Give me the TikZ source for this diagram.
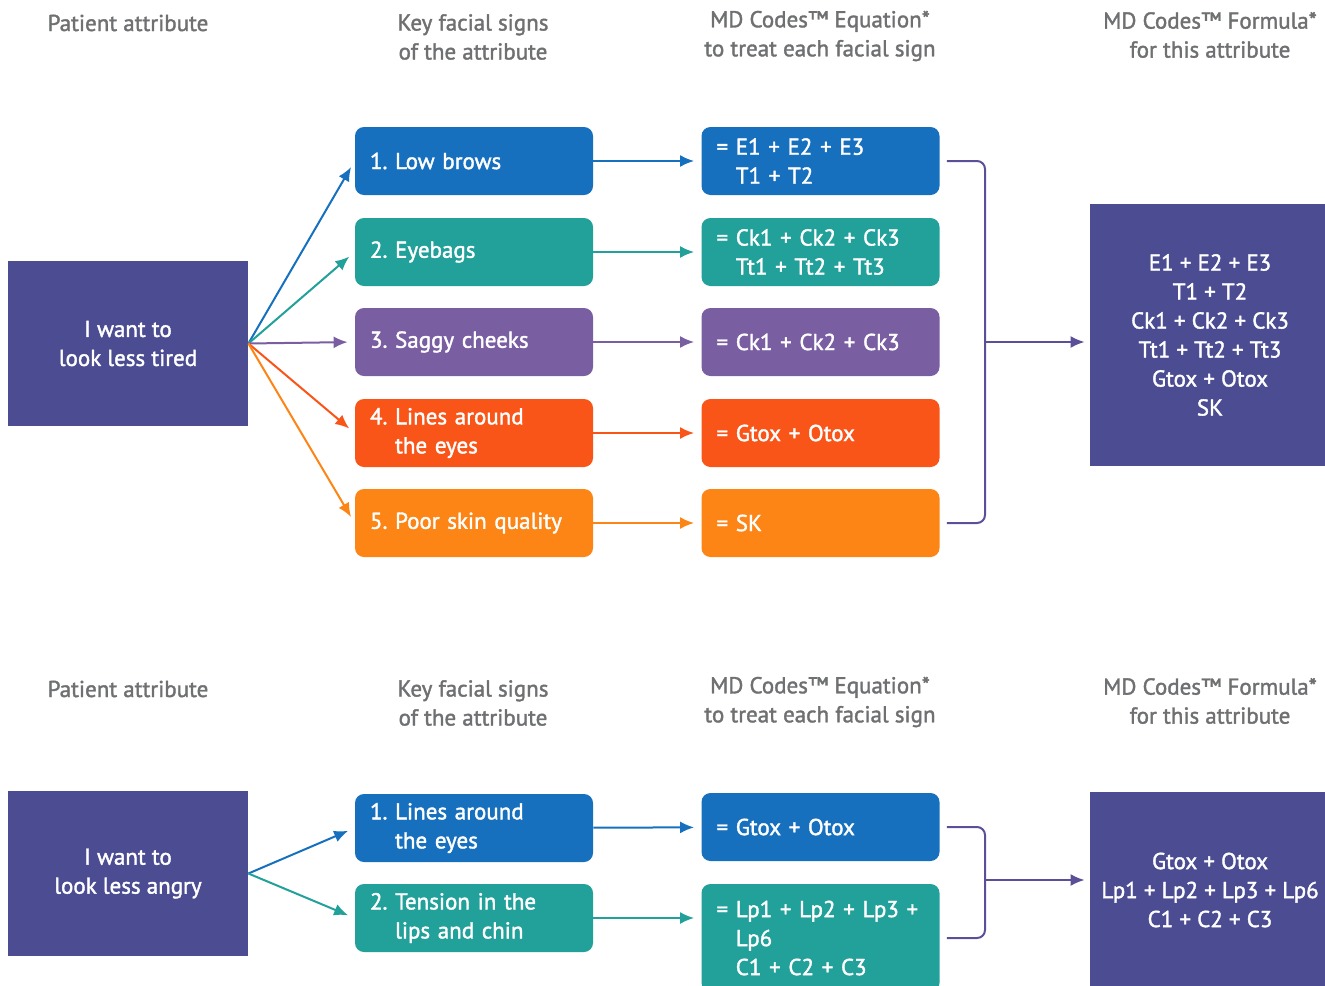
\documentclass[tikz,border=0pt]{standalone}
\usepackage{fontspec}
\setmainfont{PT Sans}[BoldFont=PT Sans,BoldFeatures={FakeBold=1.6}]
\usetikzlibrary{arrows.meta}

\definecolor{attr}{HTML}{4B4C92}
\definecolor{brow}{HTML}{1670BE}
\definecolor{bag}{HTML}{22A09A}
\definecolor{cheek}{HTML}{7A5EA2}
\definecolor{line}{HTML}{FA5519}
\definecolor{skin}{HTML}{FD8516}
\definecolor{bracket}{HTML}{5D4F97}
\definecolor{headgray}{HTML}{6F7072}

\tikzset{
  attrbox/.style={fill=attr,text=white,minimum width=120pt,align=center},
  signbox/.style={rounded corners=4.5pt,minimum width=119pt,minimum height=34pt,
    text width=104pt,inner xsep=7.5pt,align=left,text=white},
  head/.style={text=headgray,align=center},
  arr/.style={-{Latex[length=7pt,width=6pt]},line width=1pt,shorten >=3.5pt},
}

\begin{document}
\begin{tikzpicture}[x=0.5pt,y=-0.5pt,font=\fontsize{11.5}{14.5}\selectfont\bfseries\frenchspacing]
    \useasboundingbox (0,0) rectangle (1325,985);
    \clip (0,0) rectangle (1325,985);
    % tired
    \node [head] (H1) at (128,23) {Patient attribute};%
    \node [head] (H2) at (473,37) {Key facial signs\\of the attribute};%
    \node [head] (H3) at (820,36) {MD Codes™ Equation*\\to treat each facial sign};%
    \node [head] (H4) at (1210,35) {MD Codes™ Formula*\\for this attribute};%
    \node [attrbox,minimum height=82.5pt] (A1) at (128,343.5) {I want to\\look less tired};%
    \node [signbox,fill=brow] (S1) at (474,161) {1.~Low brows};%
    \node [signbox,fill=bag] (S2) at (474,252) {2.~Eyebags};%
    \node [signbox,fill=cheek] (S3) at (474,342) {3.~Saggy cheeks};%
    \node [signbox,fill=line] (S4) at (474,433) {4.~Lines around\\\phantom{4.~}the eyes};%
    \node [signbox,fill=skin] (S5) at (474,523) {5.~Poor skin quality};%
    \node [signbox,fill=brow] (E1) at (820.5,161) {=~E1 + E2 + E3\\\phantom{=~}T1 + T2};%
    \node [signbox,fill=bag] (E2) at (820.5,252) {=~Ck1 + Ck2 + Ck3\\\phantom{=~}Tt1 + Tt2 + Tt3};%
    \node [signbox,fill=cheek] (E3) at (820.5,342) {=~Ck1 + Ck2 + Ck3};%
    \node [signbox,fill=line] (E4) at (820.5,433) {=~Gtox + Otox};%
    \node [signbox,fill=skin] (E5) at (820.5,523) {=~SK};%
    \node [attrbox,minimum height=131pt] (F1) at (1210,335) {E1 + E2 + E3\\T1 + T2\\Ck1 + Ck2 + Ck3\\Tt1 + Tt2 + Tt3\\Gtox + Otox\\SK};%
    \coordinate (B1) at (985,342);
    \draw [arr,brow] (A1.east) to (S1.west);
    \draw [arr,bag] (A1.east) to (S2.west);
    \draw [arr,cheek] (A1.east) to (S3.west);
    \draw [arr,line] (A1.east) to (S4.west);
    \draw [arr,skin] (A1.east) to (S5.west);
    \draw [arr,brow] (S1) to (E1);
    \draw [arr,bag] (S2) to (E2);
    \draw [arr,cheek] (S3) to (E3);
    \draw [arr,line] (S4) to (E4);
    \draw [arr,skin] (S5) to (E5);
    \draw [bracket,line width=1pt,rounded corners=4pt] ([xshift=3.5pt]E1.east) -| (B1) |- ([xshift=3.5pt]E5.east);
    \draw [arr,bracket,shorten >=2.5pt] (B1) to (B1 -| F1.west);
    % angry
    \node [head] (H5) at (128,689) {Patient attribute};%
    \node [head] (H6) at (473,703) {Key facial signs\\of the attribute};%
    \node [head] (H7) at (820,702) {MD Codes™ Equation*\\to treat each facial sign};%
    \node [head] (H8) at (1210,701) {MD Codes™ Formula*\\for this attribute};%
    \node [attrbox,minimum height=82.5pt] (A2) at (128,873.5) {I want to\\look less angry};%
    \node [signbox,fill=brow] (T1) at (474,828) {1.~Lines around\\\phantom{1.~}the eyes};%
    \node [signbox,fill=bag] (T2) at (474,918) {2.~Tension in the\\\phantom{2.~}lips and chin};%
    \node [signbox,fill=brow] (Q1) at (820.5,827) {=~Gtox + Otox};%
    \node [signbox,fill=bag,minimum height=54pt] (Q2) at (820.5,938) {=~Lp1 + Lp2 + Lp3 +\\\phantom{=~}Lp6\\\phantom{=~}C1 + C2 + C3};%
    \node [attrbox,minimum height=98pt] (F2) at (1210,890) {Gtox + Otox\\Lp1 + Lp2 + Lp3 + Lp6\\C1 + C2 + C3};%
    \coordinate (B2) at (985,880);
    \draw [arr,brow] (A2.east) to (T1.west);
    \draw [arr,bag] (A2.east) to (T2.west);
    \draw [arr,brow] (T1) to (Q1);
    \draw [arr,bag] (T2.east) to (T2.east -| Q2.west);
    \draw [bracket,line width=1pt,rounded corners=4pt] ([xshift=3.5pt]Q1.east) -| (B2) |- ([xshift=3.5pt]Q2.east);
    \draw [arr,bracket,shorten >=2.5pt] (B2) to (B2 -| F2.west);
\end{tikzpicture}
\end{document}
